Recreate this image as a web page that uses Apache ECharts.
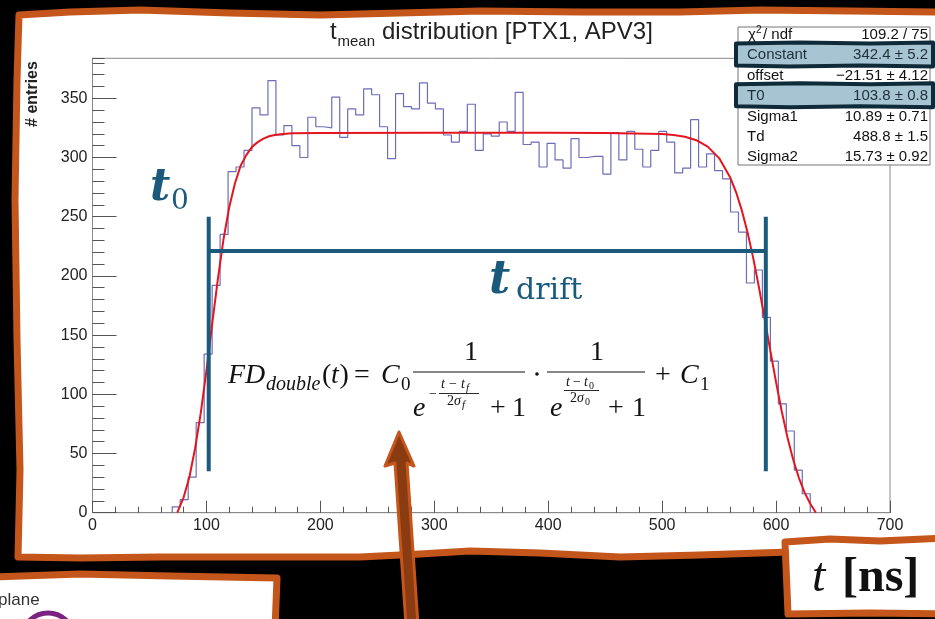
<!DOCTYPE html>
<html>
<head>
<meta charset="utf-8">
<script src="https://cdn.jsdelivr.net/npm/echarts@6/dist/echarts.min.js"></script>
<style>
  html, body { margin: 0; padding: 0; background: #000; }
  #chart { width: 935px; height: 619px; }
</style>
</head>
<body>
<div id="chart"></div>
<script>
// ---- histogram: 7 ns bins, first non-empty bin starts at 70 ns ----
const binStart = 70;
const binWidth = 7;
const counts = [
  5, 11, 30, 76, 134, 192, 235, 288, 292, 306,
  342, 336, 365, 319, 327, 310, 300, 334, 326, 325,
  351, 317, 341, 336, 358, 353, 326, 299, 354, 343,
  341, 363, 346, 341, 319, 313, 322, 345, 306, 320,
  318, 330, 322, 355, 311, 313, 292, 312, 298, 291,
  316, 300, 301, 301, 286, 321, 298, 322, 307, 292,
  306, 322, 313, 287, 291, 332, 292, 303, 289, 282,
  254, 237, 194, 205, 165, 128, 92, 69, 36, 16
];

// ---- fitted double Fermi-Dirac curve, sampled (t in ns, entries) ----
const fitT = [74.4, 80, 85, 90, 95, 100, 105, 110, 115, 120, 125, 130, 135, 140, 145, 150,
              155, 160, 165, 170, 175, 200, 300, 400, 450, 500, 510, 520, 530, 540, 550, 560,
              565, 570, 575, 580, 585, 590, 595, 600, 605, 610, 615, 620, 625, 630, 635];
const fitY = [0, 13, 30, 54, 84, 120, 159, 197, 231, 258, 278, 293, 302, 309, 313, 316,
              318, 319, 319.7, 320.1, 320.4, 320.8, 320.9, 320.9, 320.8, 319.9, 319.1, 317.5,
              314.6, 309.2, 299.5, 282.6, 270.4, 255.1, 236.6, 214.8, 190.2, 163.8, 136.6,
              110.2, 85.5, 63.6, 44.9, 29.5, 17.2, 7.6, 0];

// ---- fit results box ----
const chi2Text = '109.2 / 75';
const statNames = ['Constant', 'offset', 'T0', 'Sigma1', 'Td', 'Sigma2'];
const statValues = ['342.4 \u00b1 5.2', '\u221221.51 \u00b1 4.12', '103.8 \u00b1 0.8',
                    '10.89 \u00b1 0.71', '488.8 \u00b1 1.5', '15.73 \u00b1 0.92'];
const highlighted = ['Constant', 'T0'];

// ---- axes ----
const xMin = 0, xMax = 700, xMajor = 100, xMinor = 20;
const yMin = 0, yMax = 383.8, yMajor = 50, yMinor = 10;

// ---- drift-window markers (data units) ----
const t0Mark = 102;
const tEndMark = 591;
const markLow = 35;
const markHigh = 250;
const driftLevel = 221;

// build histogram outline from bin edges
const histPts = [[binStart, 0]];
counts.forEach((v, i) => {
  const a = binStart + i * binWidth;
  histPts.push([a, v], [a + binWidth, v]);
});
histPts.push([binStart + counts.length * binWidth, 0]);

const fitPts = fitT.map((t, i) => [t, fitY[i]]);

const SANS = '"Liberation Sans", Arial, sans-serif';
const SERIF = '"Liberation Serif", "DejaVu Serif", serif';
const DSERIF = '"DejaVu Serif", serif';
const ORANGE = '#c4551b';
const BLUE = '#1b5a7b';

// text placed by its baseline
function T(x, base, text, size, o) {
  o = o || {};
  return {
    type: 'text', x: x, y: base - 0.34 * size, z: o.z != null ? o.z : 60,
    style: {
      text: text,
      font: (o.italic ? 'italic ' : '') + (o.bold ? 'bold ' : '') + size + 'px ' + (o.family || SERIF),
      fill: o.color || '#111',
      align: o.align || 'left',
      verticalAlign: 'middle'
    }
  };
}
function L(x1, y1, x2, y2, w, c, z) {
  return { type: 'line', z: z || 60, shape: { x1, y1, x2, y2 },
           style: { stroke: c || '#111', lineWidth: w || 1 } };
}
function P(points, fill, stroke, w, z) {
  return { type: 'polygon', z: z, shape: { points: points },
           style: { fill: fill, stroke: stroke, lineWidth: w || 0, lineJoin: 'round' } };
}

// hand-drawn outline of the main panel
const panelPts = [[19,15],[70,12],[140,10],[230,13],[320,15],[400,13],[480,11],[580,12],[680,12],
  [760,10],[850,11],[945,12],[945,545],[790,552],[700,555],[620,557],[540,553],[470,551],
  [420,554],[360,557],[260,557],[160,557],[80,558],[18,557],[20,470],[17,340],[15,200],[17,80]];
const unitBoxPts = [[785,542],[830,539],[880,541],[945,538],[945,614],[870,613],[788,614]];
const sideBoxPts = [[-10,577],[80,574],[170,576],[277,578],[275,630],[-10,630]];
const arrowPts = [[399,432],[414,466],[407,463],[418,625],[406,625],[395,463],[385,466]];

const elements = [];
elements.push(P(panelPts, '#fff', null, 0, -100));

// title
elements.push(T(330, 41, 't', 24, { family: SANS, color: '#222' }));
elements.push(T(337.5, 47, 'mean', 15, { family: SANS, color: '#222' }));
elements.push(T(382, 41, 'distribution [PTX1, APV3]', 24, { family: SANS, color: '#222' }));
// y axis title
elements.push({ type: 'text', x: 33, y: 94, rotation: Math.PI / 2, z: 60,
  style: { text: '# entries', font: 'bold 16px ' + SANS, fill: '#222', align: 'center', verticalAlign: 'middle' } });

// fit results box
const boxX = 738, boxY = 27, boxW = 192, boxH = 138, rowH = 20.4, row0 = 34.5;
elements.push({ type: 'rect', z: 50, shape: { x: boxX, y: boxY, width: boxW, height: boxH },
  style: { fill: '#fff', stroke: '#777', lineWidth: 1 } });
statNames.forEach((n, i) => {
  if (highlighted.indexOf(n) >= 0) {
    const cy = row0 + (i + 1) * rowH;
    const t = cy - 11.5, b = cy + 11.5;
    elements.push(P([[736,t],[800,t-1],[870,t],[933,t-1],[933,b],[860,b-1],[790,b],[736,b-1]],
      '#a7c4d2', '#0f2b3a', 4, 51));
  }
});
elements.push(T(748, row0 + 5, '\u03c7', 15, { family: SANS, z: 52 }));
elements.push(T(756, row0 - 1, '2', 10, { family: SANS, z: 52 }));
elements.push(T(763, row0 + 5, '/ ndf', 15, { family: SANS, z: 52 }));
elements.push(T(928, row0 + 5, chi2Text, 15, { family: SANS, align: 'right', z: 52 }));
statNames.forEach((n, i) => {
  const base = row0 + (i + 1) * rowH + 5.5;
  const c = highlighted.indexOf(n) >= 0 ? '#1c2f3a' : '#111';
  elements.push(T(747, base, n, 15, { family: SANS, color: c, z: 52 }));
  elements.push(T(928, base, statValues[i], 15, { family: SANS, color: c, align: 'right', z: 52 }));
});

// drift window labels
elements.push(T(150, 204, 't', 44, { family: DSERIF, italic: true, bold: true, color: BLUE }));
elements.push(T(171, 211, '0', 28, { family: DSERIF, color: BLUE }));
elements.push(T(489, 297, 't', 46, { family: DSERIF, italic: true, bold: true, color: BLUE }));
elements.push(T(516, 301, 'drift', 30, { family: DSERIF, color: BLUE }));

// fit function
const it = { italic: true };
elements.push(T(228, 385, 'FD', 28, it));
elements.push(T(266, 392, 'double', 20, it));
elements.push(T(322, 385, '(', 28));
elements.push(T(331, 385, 't', 28, it));
elements.push(T(339.5, 385, ')', 28));
elements.push(T(354, 385, '=', 28));
elements.push(T(381, 385, 'C', 28, it));
elements.push(T(401, 391, '0', 19));
elements.push(L(413, 372, 525, 372, 1.2));
elements.push(T(471, 362, '1', 28, { align: 'center' }));
elements.push(T(413, 418, 'e', 28, it));
elements.push(T(429, 399, '\u2212', 14));
elements.push(T(441, 389, 't', 14, it));
elements.push(T(449, 389, '\u2212', 14));
elements.push(T(461, 389, 't', 14, it));
elements.push(T(466, 392, 'f', 11, it));
elements.push(L(439, 393.5, 479, 393.5, 0.9));
elements.push(T(447, 406, '2', 14));
elements.push(T(454, 406, '\u03c3', 14, it));
elements.push(T(462, 409, 'f', 11, it));
elements.push(T(490, 418, '+', 28));
elements.push(T(512, 418, '1', 28));
elements.push({ type: 'circle', z: 60, shape: { cx: 537, cy: 374, r: 1.8 }, style: { fill: '#111' } });
elements.push(L(547, 372, 645, 372, 1.2));
elements.push(T(597, 362, '1', 28, { align: 'center' }));
elements.push(T(550, 418, 'e', 28, it));
elements.push(T(566, 387, 't', 14, it));
elements.push(T(573, 387, '\u2212', 14));
elements.push(T(584, 387, 't', 14, it));
elements.push(T(589, 390, '0', 10));
elements.push(L(564, 390.5, 599, 390.5, 0.9));
elements.push(T(570, 403.5, '2', 14));
elements.push(T(577, 403.5, '\u03c3', 14, it));
elements.push(T(585, 406, '0', 10));
elements.push(T(608, 418, '+', 28));
elements.push(T(632, 418, '1', 28));
elements.push(T(655, 385, '+', 28));
elements.push(T(680, 385, 'C', 28, it));
elements.push(T(700, 391, '1', 19));

// outlines, side boxes and arrow
elements.push(P(panelPts, 'none', ORANGE, 7, 80));
elements.push(P(sideBoxPts, '#fff', ORANGE, 7, 81));
elements.push(T(-2, 606, 'plane', 17, { family: SANS, color: '#333', z: 82 }));
elements.push({ type: 'circle', z: 82, shape: { cx: 48, cy: 639, r: 26 },
  style: { fill: 'none', stroke: '#7b2382', lineWidth: 5 } });
elements.push(P(unitBoxPts, '#fff', ORANGE, 7, 81));
elements.push(T(812, 595, 't', 48, { italic: true, z: 82 }));
elements.push(T(842, 595, '[ns]', 48, { bold: true, z: 82 }));
elements.push(P(arrowPts, '#8b3b12', ORANGE, 3, 90));

function markSeries(pts) {
  return { type: 'line', data: pts, symbol: 'none', z: 6, silent: true,
           lineStyle: { color: BLUE, width: 4, cap: 'butt' } };
}

const axisColor = '#8a8a8a', tickColor = '#555';
const chart = echarts.init(document.getElementById('chart'), null, { renderer: 'canvas' });
chart.setOption({
  backgroundColor: '#000',
  animation: false,
  grid: { left: 92.5, top: 58.3, width: 797.5, height: 454.4, show: true,
          borderColor: axisColor, borderWidth: 1, backgroundColor: 'transparent' },
  xAxis: [
    { type: 'value', min: xMin, max: xMax, interval: xMajor,
      axisLine: { show: true, lineStyle: { color: axisColor, width: 1 } },
      axisTick: { show: true, inside: true, length: 12, lineStyle: { color: tickColor } },
      axisLabel: { fontSize: 16, color: '#222', fontFamily: SANS, margin: 5 },
      splitLine: { show: false } },
    { type: 'value', min: xMin, max: xMax, interval: xMinor, position: 'bottom',
      axisLine: { show: false },
      axisTick: { show: true, inside: true, length: 6, lineStyle: { color: tickColor } },
      axisLabel: { show: false }, splitLine: { show: false } }
  ],
  yAxis: [
    { type: 'value', min: yMin, max: yMax, interval: yMajor,
      axisLine: { show: true, lineStyle: { color: axisColor, width: 1 } },
      axisTick: { show: true, inside: true, length: 24, lineStyle: { color: tickColor } },
      axisLabel: { fontSize: 16, color: '#222', fontFamily: SANS, margin: 5, showMaxLabel: false },
      splitLine: { show: false } },
    { type: 'value', min: yMin, max: yMax, interval: yMinor, position: 'left',
      axisLine: { show: false },
      axisTick: { show: true, inside: true, length: 12, lineStyle: { color: tickColor } },
      axisLabel: { show: false }, splitLine: { show: false } }
  ],
  series: [
    { type: 'line', data: histPts, symbol: 'none', z: 3,
      lineStyle: { color: '#6d6db8', width: 1.2 } },
    { type: 'line', data: fitPts, symbol: 'none', z: 4, smooth: false,
      lineStyle: { color: '#e3161f', width: 2 } },
    markSeries([[t0Mark, markLow], [t0Mark, markHigh]]),
    markSeries([[tEndMark, markLow], [tEndMark, markHigh]]),
    markSeries([[t0Mark, driftLevel], [tEndMark, driftLevel]])
  ],
  graphic: { elements: elements }
});
</script>
</body>
</html>
